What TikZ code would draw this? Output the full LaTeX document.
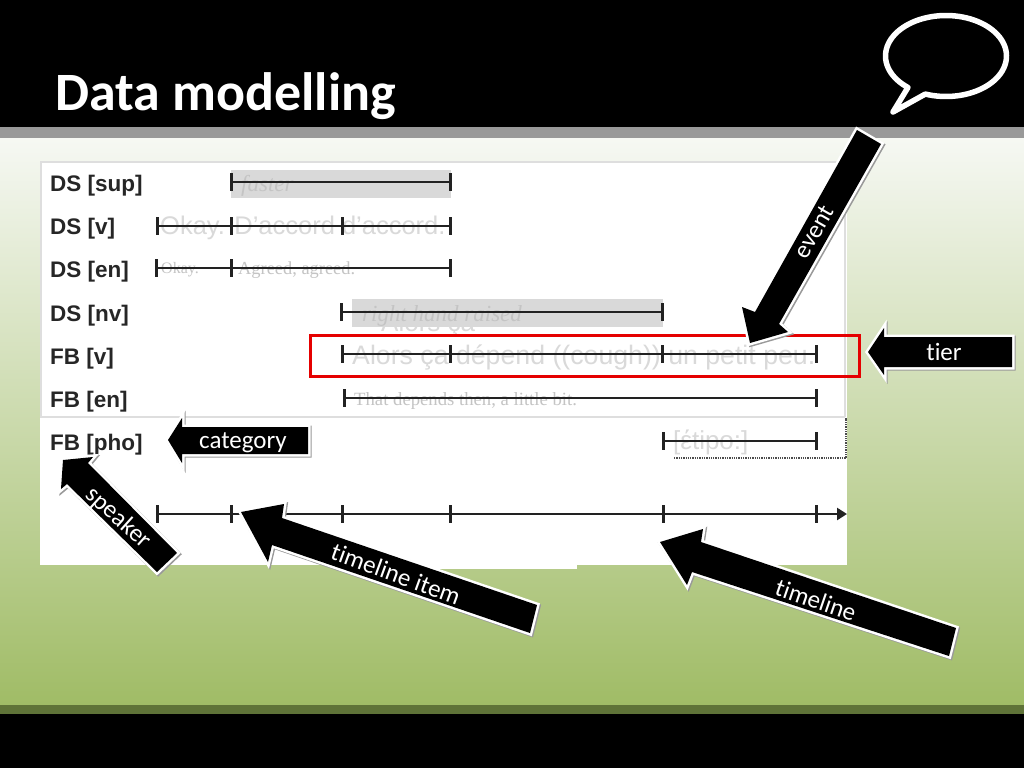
\documentclass[tikz,border=0pt]{standalone}
\usepackage{fontspec}
\setmainfont{Liberation Sans}
\newfontfamily\calib[Ligatures=NoCommon]{Carlito}
\newfontfamily\serifface{Liberation Serif}
\usetikzlibrary{arrows.meta}
\definecolor{ink}{HTML}{222222}
\definecolor{fadetext}{HTML}{D9D9D9}
\definecolor{fadeserif}{HTML}{C4C4C4}
\definecolor{greenend}{HTML}{A0BC66}
\definecolor{greenstart}{HTML}{F6F8F3}
\definecolor{bandgrey}{HTML}{999999}
\definecolor{bandgreen}{HTML}{5F7338}
\definecolor{panelline}{HTML}{DEDEDE}
\definecolor{evbar}{HTML}{D9D9D9}
\tikzset{
  tierlabel/.style={anchor=west,inner sep=0pt,font=\fontsize{22.5}{24}\selectfont\bfseries,text=black!85},
  sansghost/.style={anchor=west,inner sep=0pt,text=fadetext},
  serifghost/.style={anchor=west,inner sep=0pt,text=fadeserif,font=\serifface\fontsize{16}{18}\selectfont},
  italghost/.style={anchor=west,inner sep=0pt,text=fadeserif,font=\serifface\itshape\fontsize{23}{25}\selectfont},
  tierline/.style={draw=ink,line width=2.6pt},
  tick/.style={draw=ink,line width=3pt},
  calloutborder/.style={draw=white,line width=5pt,line join=miter,miter limit=7},
  calloutshadow/.style={draw=black!40,line width=5pt,line join=miter,miter limit=7},
  calloutlabel/.style={inner sep=0pt,text=white,font=\calib\fontsize{25}{27}\selectfont},
}
\newcommand{\tierrow}[3]{% y, start, end
  \draw[tierline] (#2,#1) -- (#3,#1);}
\newcommand{\tierticks}[2]{% y, list of x
  \foreach \tx in {#2} {\draw[tick] (\tx,#1-9) -- (\tx,#1+9);}}
\newcommand{\callout}[1]{%
  \draw[calloutshadow,xshift=1.2pt,yshift=-1.2pt] #1 -- cycle;
  \draw[calloutborder] #1 -- cycle;
  \fill[black] #1 -- cycle;}
\begin{document}
\begin{tikzpicture}[x=1pt,y=-1pt]
\useasboundingbox (0,0) rectangle (1024,768);
% background
\fill[black] (0,0) rectangle (1024,768);
\fill[bandgrey] (0,127) rectangle (1024,138);
\shade[top color=greenstart,bottom color=greenend] (0,138) rectangle (1024,705);
\fill[bandgreen] (0,705) rectangle (1024,714);
% panel
\fill[white] (40,161) rectangle (847,565);
\fill[white] (400,565) rectangle (577,569);
\draw[panelline,line width=2pt] (845,417) -- (845,162) -- (41,162) -- (41,417) -- (845,417);
% speech bubble
\draw[white,line width=5.5pt,line join=round,fill=black]
  plot[domain=110:-231,samples=90] ({946+60.5*cos(\x)},{56+40.5*sin(\x)}) -- (893,112) -- cycle;
% title
\node[anchor=west,inner sep=0pt,text=white] (title) at (55,96) {\calib\bfseries\fontsize{54}{58}\selectfont Data modelling};
% event bars
\fill[evbar] (231,170) rectangle (451,198);
\node[sansghost,font=\fontsize{26}{28}\selectfont] (ghost) at (381,325) {Alors ça};
\fill[evbar] (352,299) rectangle (663,327);
% tier labels
\node[tierlabel] (l1) at (50,186) {DS [sup]};
\node[tierlabel] (l2) at (50,229) {DS [v]};
\node[tierlabel] (l3) at (50,272) {DS [en]};
\node[tierlabel] (l4) at (50,316) {DS [nv]};
\node[tierlabel] (l5) at (50,359) {FB [v]};
\node[tierlabel] (l6) at (50,402) {FB [en]};
\node[tierlabel] (l7) at (50,445) {FB [pho]};
% ghost annotation texts
\node[italghost] (t1) at (241,186) {faster};
\node[sansghost,font=\fontsize{25.5}{27}\selectfont] (t2) at (160,228) {Okay. D'accord d'accord.};
\node[serifghost] (t3) at (161,270) {Okay.};
\node[serifghost,font=\serifface\fontsize{18.4}{20}\selectfont] (t4) at (238,270) {Agreed, agreed.};
\node[italghost] (t5) at (362,316) {right hand raised};
\node[sansghost,font=\fontsize{26.7}{28}\selectfont] (t6) at (352,357) {Alors ça dépend ((cough)) un petit peu.};
\node[serifghost,font=\serifface\fontsize{18.7}{20}\selectfont] (t7) at (354,401) {That depends then, a little bit.};
\node[sansghost,font=\fontsize{26}{28}\selectfont] (t8) at (673,442) {[έtipo:]};
% dotted frame
\draw[black!70,line width=1.3pt,densely dotted] (674,458) -- (846,458) -- (846,418);
% tiers
\tierrow{182}{231}{450}\tierticks{182}{231,450}
\tierrow{226}{157}{450}\tierticks{226}{157,231,342,450}
\tierrow{268}{156}{450}\tierticks{268}{156,231,450}
\tierrow{312}{341}{662}\tierticks{312}{341,662}
\tierrow{354}{342}{816}\tierticks{354}{342,450,662,816}
\tierrow{398}{344}{816}\tierticks{398}{344,816}
\tierrow{441}{663}{816}\tierticks{441}{663,816}
% timeline
\coordinate (tlstart) at (157,514);
\coordinate (tlend) at (847,514);
\draw[tierline,-{Triangle[length=10pt,width=12pt]}] (tlstart) -- (tlend);
\tierticks{514}{157,231,342,450,663,816}
% red tier box
\draw[red!90!black,line width=3pt] (310,335) rectangle (859,376);
% callouts
\callout{(857,130) -- (881,144) -- (779,324) -- (788,332) -- (750,343) -- (742,307) -- (755,312)}
\node[calloutlabel,rotate=60] (event) at (814,232) {event};
\callout{(868,352) -- (884,328) -- (884,337) -- (1012,337) -- (1012,367) -- (884,367) -- (884,375)}
\node[calloutlabel] (tier) at (944,352) {tier};
\callout{(168,440) -- (182,418) -- (182,427) -- (308,427) -- (308,454) -- (182,454) -- (182,463)}
\node[calloutlabel] (category) at (243,443) {category};
\callout{(63,460) -- (93,457) -- (88,463) -- (177,553) -- (157,572) -- (67,484) -- (61,489)}
\node[calloutlabel,rotate=-42] (speaker) at (118,518) {speaker};
\callout{(241,512) -- (284,504) -- (282,518) -- (537,605) -- (530,633) -- (272,545) -- (268,562)}
\node[calloutlabel,rotate=-20] (item) at (396,574) {timeline item};
\callout{(660,542) -- (703,529) -- (701,542) -- (956,628) -- (949,656) -- (692,572) -- (687,585)}
\node[calloutlabel,rotate=-19] (timeline) at (816,600) {timeline};
\end{tikzpicture}
\end{document}
